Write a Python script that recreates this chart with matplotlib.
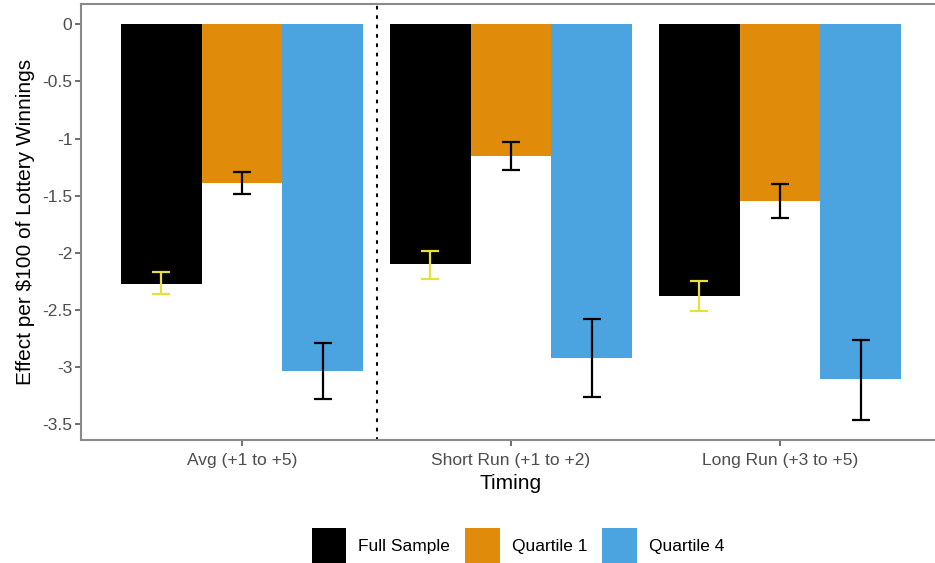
import numpy as np
import matplotlib
matplotlib.use('Agg')
import matplotlib.pyplot as plt
from matplotlib.patches import Patch

plt.rcParams['font.family'] = ['Liberation Sans', 'DejaVu Sans']

# 데이터
timing = ['Avg (+1 to +5)', 'Short Run (+1 to +2)', 'Long Run (+3 to +5)']
groups = ['Full Sample', 'Quartile 1', 'Quartile 4']
full = [-2.27, -2.10, -2.375]
q1 = [-1.385, -1.152, -1.543]
q4 = [-3.03, -2.92, -3.106]
# 오차막대 위/아래 끝
full_hi = [-2.17, -1.98, -2.25]
full_lo = [-2.36, -2.23, -2.51]
q1_hi = [-1.29, -1.027, -1.397]
q1_lo = [-1.487, -1.277, -1.695]
q4_hi = [-2.786, -2.58, -2.76]
q4_lo = [-3.28, -3.26, -3.46]

colors = ['#000000', '#E08C0A', '#4BA3E0']
err_colors = ['#E8DE3E', '#000000', '#000000']

vals = [full, q1, q4]
his = [full_hi, q1_hi, q4_hi]
los = [full_lo, q1_lo, q4_lo]

fig = plt.figure(figsize=(9.35, 5.63), dpi=100)
ax = fig.add_axes([80.6 / 935, 1 - 440 / 563, 860.8 / 935, 436 / 563])

x = np.arange(1, len(timing) + 1)
w = 0.3
for i in range(3):
    xs = x + (i - 1) * w
    v = np.array(vals[i])
    ax.bar(xs, v, width=w, color=colors[i], edgecolor='none', label=groups[i])
    yerr = [np.abs(v - np.array(los[i])), np.abs(np.array(his[i]) - v)]
    ax.errorbar(xs, v, yerr=yerr, fmt='none', ecolor=err_colors[i],
                elinewidth=1.6, capsize=6.5, capthick=1.6)

# 구분선 (점선)
ax.axvline(1.5, color='black', lw=1.5, linestyle=(0, (1, 3.5)), dash_capstyle='round')

ax.set_xlim(0.4, 3.6)
ax.set_ylim(-3.637, 0.1776)
ax.set_xticks(x)
ax.set_xticklabels(timing)
yt = [0, -0.5, -1, -1.5, -2, -2.5, -3, -3.5]
ax.set_yticks(yt)
ax.set_yticklabels(['0', '-0.5', '-1', '-1.5', '-2', '-2.5', '-3', '-3.5'])
ax.tick_params(axis='both', labelsize=12.5, labelcolor='#4D4D4D', color='#555555',
               length=4, width=1.2)
ax.tick_params(axis='x', pad=5)
ax.tick_params(axis='y', pad=2)
for s in ax.spines.values():
    s.set_color('#8A8A8A')
    s.set_linewidth(1.5)

ax.set_xlabel('Timing', fontsize=15, labelpad=5)
ax.set_ylabel('Effect per $100 of Lottery Winnings', fontsize=15, labelpad=5)

handles = [Patch(facecolor=c, edgecolor='none') for c in colors]
fig.legend(handles, groups, loc='center', bbox_to_anchor=(518 / 935, 1 - 546 / 563),
           ncol=3, frameon=False, fontsize=12.5, handlelength=2.0, handleheight=2.8,
           handletextpad=0.7, columnspacing=0.85)

fig.savefig('out.png', dpi=100)
